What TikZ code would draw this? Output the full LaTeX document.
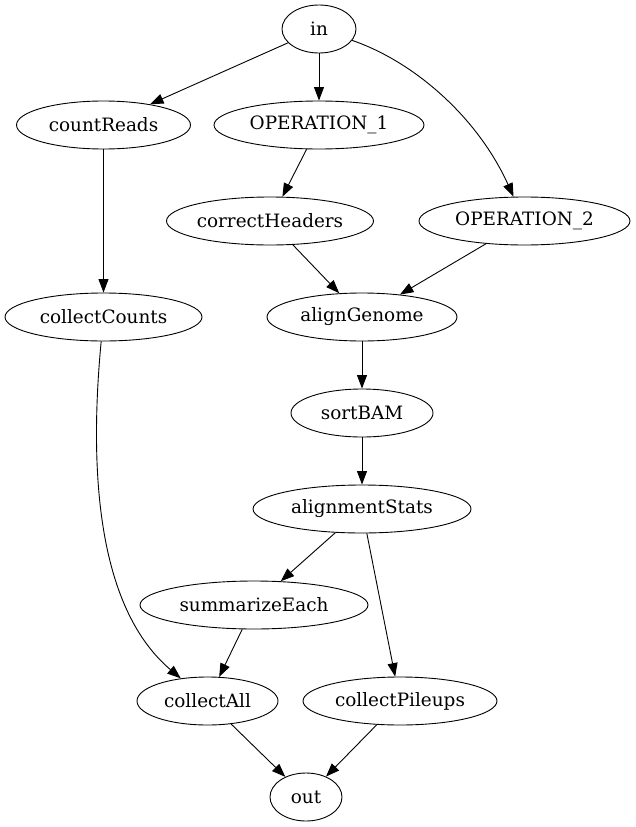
\documentclass[tikz,border=0pt]{standalone}
\usepackage{fontspec}
\setmainfont{DejaVu Serif}
\usetikzlibrary{arrows.meta,shapes.geometric}
\begin{document}
\begin{tikzpicture}[x=1pt,y=-1pt,
  nd/.style={draw,ellipse,inner sep=0pt,minimum height=48pt,line width=0.9pt,
    font=\fontsize{18.4}{22}\selectfont},
  ed/.style={line width=0.9pt,-{Triangle[length=13.5pt,width=10pt]}}]
\useasboundingbox (0,0) rectangle (635,827);
\node[nd,minimum width=74pt]  (in)   at (319,29) {in};
\node[nd,minimum width=174pt] (countReads) at (103.5,125) {countReads};
\node[nd,minimum width=210pt] (op1)  at (319,125) {OPERATION\_1};
\node[nd,minimum width=196pt] (correctHeaders) at (270,221) {correctHeaders};
\node[nd,minimum width=211pt] (op2)  at (524.5,221) {OPERATION\_2};
\node[nd,minimum width=197pt] (collectCounts) at (103.5,317) {collectCounts};
\node[nd,minimum width=190pt] (alignGenome) at (362,317) {alignGenome};
\node[nd,minimum width=142pt] (sortBAM) at (362,413) {sortBAM};
\node[nd,minimum width=218pt] (alignmentStats) at (362,509) {alignmentStats};
\node[nd,minimum width=228pt] (summarizeEach) at (254,605) {summarizeEach};
\node[nd,minimum width=141pt] (collectAll) at (207.5,701) {collectAll};
\node[nd,minimum width=194pt] (collectPileups) at (400,701) {collectPileups};
\node[nd,minimum width=72pt]  (out)  at (306,797) {out};

\draw[ed] (in) -- (countReads);
\draw[ed] (in) -- (op1);
\draw[ed] (in) .. controls (415,62) and (478,118) .. (op2);
\draw[ed] (countReads) -- (collectCounts);
\draw[ed] (op1) -- (correctHeaders);
\draw[ed] (correctHeaders) -- (alignGenome);
\draw[ed] (op2) -- (alignGenome);
\draw[ed] (collectCounts) .. controls (88,480) and (100,610) .. (collectAll);
\draw[ed] (alignGenome) -- (sortBAM);
\draw[ed] (sortBAM) -- (alignmentStats);
\draw[ed] (alignmentStats) -- (summarizeEach);
\draw[ed] (alignmentStats) -- (collectPileups);
\draw[ed] (summarizeEach) -- (collectAll);
\draw[ed] (collectAll) -- (out);
\draw[ed] (collectPileups) -- (out);
\end{tikzpicture}
\end{document}
